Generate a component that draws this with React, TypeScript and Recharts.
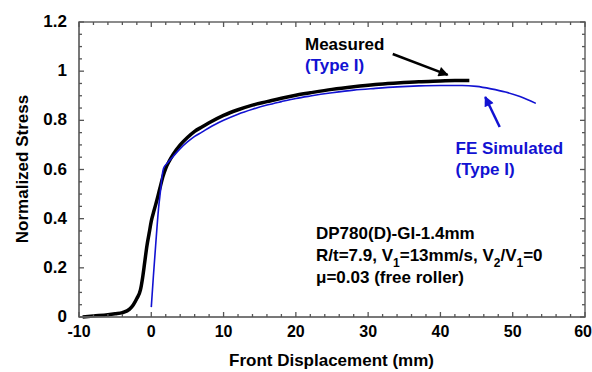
import React from 'react';
import { LineChart, Line, XAxis, YAxis, ReferenceLine } from 'recharts';

// Measured (Type I)
const measuredX = [-9.5, -8, -6, -5, -4, -3, -2.5, -2, -1.5, -1.2, -0.9, -0.6, -0.3, 0, 0.4, 0.8, 1.2, 1.6, 2, 2.5, 3, 4, 5, 6, 7, 8, 10, 12, 14, 16, 18, 20, 22, 25, 28, 31, 34, 37, 40, 42, 44];
const measuredY = [0, 0.004, 0.009, 0.013, 0.018, 0.032, 0.049, 0.075, 0.11, 0.16, 0.225, 0.29, 0.34, 0.39, 0.435, 0.478, 0.525, 0.57, 0.605, 0.635, 0.66, 0.7, 0.73, 0.755, 0.773, 0.79, 0.82, 0.843, 0.862, 0.876, 0.89, 0.902, 0.912, 0.926, 0.937, 0.946, 0.952, 0.957, 0.96, 0.962, 0.962];

// FE Simulated (Type I)
const simX = [0, 0.3, 0.6, 1.0, 1.3, 1.5, 1.7, 2.2, 3, 4, 5, 6, 7, 8, 10, 12, 14, 16, 18, 20, 22, 25, 28, 31, 34, 37, 40, 43, 45, 47, 49, 51, 52, 53.2];
const simY = [0.04, 0.17, 0.29, 0.44, 0.52, 0.575, 0.605, 0.625, 0.652, 0.685, 0.712, 0.735, 0.752, 0.77, 0.8, 0.825, 0.845, 0.862, 0.876, 0.889, 0.899, 0.912, 0.923, 0.93, 0.936, 0.94, 0.942, 0.942, 0.938, 0.928, 0.915, 0.897, 0.885, 0.869];

const xMajorTicks = [-10, 0, 10, 20, 30, 40, 50, 60];
const xAllTicks = [-10, -8, -6, -4, -2, 0, 2, 4, 6, 8, 10, 12, 14, 16, 18, 20, 22, 24, 26, 28, 30, 32, 34, 36, 38, 40, 42, 44, 46, 48, 50, 52, 54, 56, 58, 60];
const yMajorTicks = [0, 0.2, 0.4, 0.6, 0.8, 1, 1.2];
const yAllTicks = [0, 0.05, 0.1, 0.15, 0.2, 0.25, 0.3, 0.35, 0.4, 0.45, 0.5, 0.55, 0.6, 0.65, 0.7, 0.75, 0.8, 0.85, 0.9, 0.95, 1, 1.05, 1.1, 1.15, 1.2];

// annotation arrows (data coordinates: tail -> tip)
const measuredArrow = [{ x: 33.4, y: 1.07 }, { x: 41.0, y: 0.985 }];
const simArrow = [{ x: 48.2, y: 0.773 }, { x: 46.2, y: 0.895 }];

const measuredData = measuredX.map((x, i) => ({ x, y: measuredY[i] }));
const simData = simX.map((x, i) => ({ x, y: simY[i] }));

const X_MIN = -10;
const X_MAX = 60;
const Y_MIN = 0;
const Y_MAX = 1.2;

// chart box (must match the LineChart margins / axis sizes below)
const W = 592;
const H = 372;
const M_TOP = 22;
const M_RIGHT = 7;
const X_AXIS_H = 55;
const Y_AXIS_W = 79;
const PL = Y_AXIS_W;
const PR = W - M_RIGHT;
const PT = M_TOP;
const PB = H - X_AXIS_H;
const sx = (v: number) => PL + ((v - X_MIN) / (X_MAX - X_MIN)) * (PR - PL);
const sy = (v: number) => PB - ((v - Y_MIN) / (Y_MAX - Y_MIN)) * (PB - PT);

const FONT = '"Liberation Sans", Arial, sans-serif';
const AXIS_COLOR = '#666';
const TICK_COLOR = '#555';
const BLUE = '#1212d2';
const MAJOR = 5;
const MINOR = 3;

const isMajor = (v: number, arr: number[]) => arr.some((a) => Math.abs(a - v) < 1e-9);
const fmtY = (v: number) => (Math.abs(v - Math.round(v)) < 1e-9 ? String(Math.round(v)) : v.toFixed(1));

const BottomTick = (props: any) => {
  const { x, y, payload } = props;
  if (!isMajor(payload.value, xMajorTicks)) return <g />;
  const last = payload.value === X_MAX;
  return (
    <text x={last ? x + 7 : x} y={y + 20} textAnchor={last ? 'end' : 'middle'} fontFamily={FONT} fontWeight="bold" fontSize={16} fill="#000">
      {payload.value}
    </text>
  );
};

const LeftTick = (props: any) => {
  const { x, y, payload } = props;
  if (!isMajor(payload.value, yMajorTicks)) return <g />;
  return (
    <text x={x - 12} y={y + 5} textAnchor="end" fontFamily={FONT} fontWeight="bold" fontSize={17} fill="#000">
      {fmtY(payload.value)}
    </text>
  );
};

const ts = { fontFamily: FONT, fontWeight: 'bold' as const, fontSize: 17 };

export default function App() {
  return (
    <div style={{ position: 'absolute', left: 0, top: 0, width: W, height: H, background: '#fff' }}>
      <div style={{ position: 'absolute', left: 0, top: 0 }}>
        <LineChart width={W} height={H} margin={{ top: M_TOP, right: M_RIGHT, bottom: 0, left: 0 }}>
          <XAxis xAxisId="b" dataKey="x" type="number" domain={[X_MIN, X_MAX]} ticks={xAllTicks} interval={0} height={X_AXIS_H} tickSize={0} tickMargin={0} tickLine={false} stroke={AXIS_COLOR} tick={<BottomTick />} />
          <YAxis yAxisId="l" type="number" domain={[Y_MIN, Y_MAX]} ticks={yAllTicks} interval={0} width={Y_AXIS_W} tickSize={0} tickMargin={0} tickLine={false} stroke={AXIS_COLOR} tick={<LeftTick />} />
          <Line xAxisId="b" yAxisId="l" data={measuredData} dataKey="y" type="monotone" stroke="#000" strokeWidth={3.5} dot={false} isAnimationActive={false} />
          <Line xAxisId="b" yAxisId="l" data={simData} dataKey="y" type="monotone" stroke={BLUE} strokeWidth={1.6} dot={false} isAnimationActive={false} />
          <ReferenceLine xAxisId="b" yAxisId="l" segment={measuredArrow} stroke="#000" strokeWidth={2.5} markerEnd="url(#ahBlack)" />
          <ReferenceLine xAxisId="b" yAxisId="l" segment={simArrow} stroke={BLUE} strokeWidth={2.5} markerEnd="url(#ahBlue)" />
        </LineChart>
      </div>
      <svg width={W} height={H} style={{ position: 'absolute', left: 0, top: 0, pointerEvents: 'none' }}>
        <defs>
          <marker id="ahBlack" viewBox="0 0 10 10" refX="9" refY="5" markerUnits="userSpaceOnUse" markerWidth="15" markerHeight="10" orient="auto">
            <path d="M0,0 L10,5 L0,10 z" fill="#000" />
          </marker>
          <marker id="ahBlue" viewBox="0 0 10 10" refX="9" refY="5" markerUnits="userSpaceOnUse" markerWidth="15" markerHeight="10" orient="auto">
            <path d="M0,0 L10,5 L0,10 z" fill={BLUE} />
          </marker>
        </defs>
        {/* plot frame */}
        <rect x={PL} y={PT} width={PR - PL} height={PB - PT} fill="none" stroke={AXIS_COLOR} strokeWidth={1.5} />
        {/* inward ticks on all four sides */}
        {xAllTicks.map((v) => {
          const len = isMajor(v, xMajorTicks) ? MAJOR : MINOR;
          return (
            <g key={`x${v}`}>
              <line x1={sx(v)} x2={sx(v)} y1={PB} y2={PB - len} stroke={TICK_COLOR} strokeWidth={1.3} />
              <line x1={sx(v)} x2={sx(v)} y1={PT} y2={PT + len} stroke={TICK_COLOR} strokeWidth={1.3} />
            </g>
          );
        })}
        {yAllTicks.map((v) => {
          const len = isMajor(v, yMajorTicks) ? MAJOR : MINOR;
          return (
            <g key={`y${v}`}>
              <line x1={PL} x2={PL + len} y1={sy(v)} y2={sy(v)} stroke={TICK_COLOR} strokeWidth={1.3} />
              <line x1={PR} x2={PR - len} y1={sy(v)} y2={sy(v)} stroke={TICK_COLOR} strokeWidth={1.3} />
            </g>
          );
        })}
        <text x={331.5} y={366} textAnchor="middle" {...ts} fill="#000">Front Displacement (mm)</text>
        <text x={28} y={169} textAnchor="middle" transform="rotate(-90 28 169)" {...ts} fill="#000">Normalized Stress</text>
        <text x={305} y={49.5} {...ts} fill="#000">Measured</text>
        <text x={305} y={70.5} {...ts} fill={BLUE}>(Type I)</text>
        <text x={455.5} y={154} {...ts} fill={BLUE}>FE Simulated</text>
        <text x={455.5} y={175} {...ts} fill={BLUE}>(Type I)</text>
        <text x={316} y={239} {...ts} fill="#000">DP780(D)-GI-1.4mm</text>
        <text x={316} y={261} {...ts} fill="#000">
          R/t=7.9, V<tspan fontSize={12} dy={6}>1</tspan>
          <tspan dy={-6}>=13mm/s, V</tspan>
          <tspan fontSize={12} dy={6}>2</tspan>
          <tspan dy={-6}>/V</tspan>
          <tspan fontSize={12} dy={6}>1</tspan>
          <tspan dy={-6}>=0</tspan>
        </text>
        <text x={316} y={283} {...ts} fill="#000">μ=0.03 (free roller)</text>
      </svg>
    </div>
  );
}
